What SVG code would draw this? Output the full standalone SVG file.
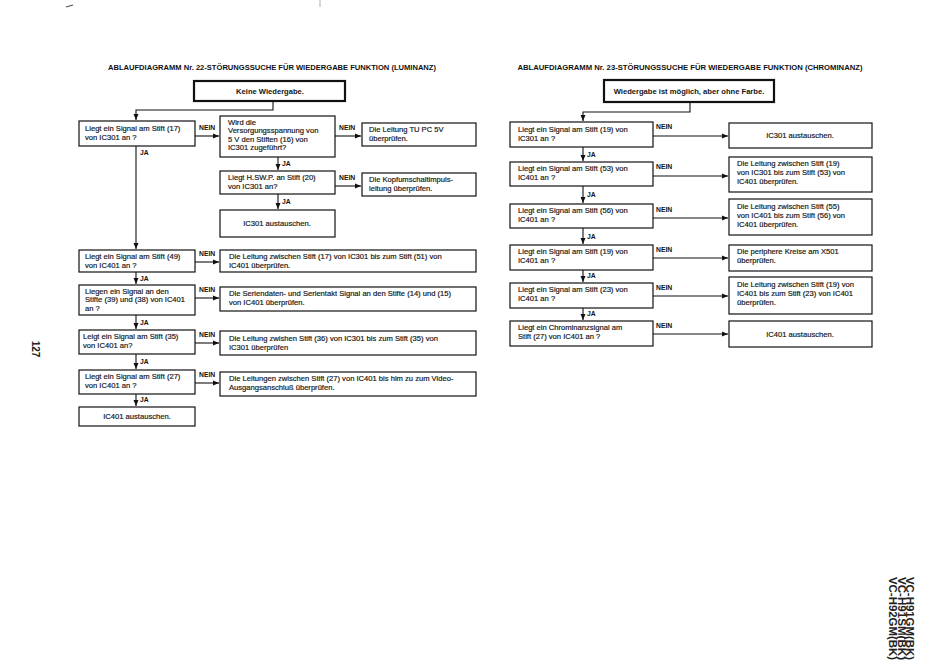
<svg xmlns="http://www.w3.org/2000/svg" width="950" height="670" viewBox="0 0 950 670">
<defs>
<marker id="ah" markerUnits="userSpaceOnUse" markerWidth="7" markerHeight="6" refX="6" refY="3" orient="auto">
<path d="M0,0.5 L6,3 L0,5.5 Z" fill="#111"/>
</marker>
<style>
.t{font-family:"Liberation Sans",Arial,sans-serif;font-size:7.6px;fill:#161616;stroke:#161616;stroke-width:0.18px}
.c{text-anchor:middle}
.b{font-weight:bold;stroke-width:0}
.h{font-family:"Liberation Sans",Arial,sans-serif;font-size:7.4px;font-weight:bold;fill:#111;text-anchor:middle}
.l{font-family:"Liberation Sans",Arial,sans-serif;font-size:6.8px;font-weight:bold;fill:#111}
.bx{fill:#fff;stroke:#111;stroke-width:1.2}
.st{fill:#fff;stroke:#111;stroke-width:2.2}
.cn{fill:none;stroke:#111;stroke-width:1.1}
.m{font-family:"Liberation Sans",Arial,sans-serif;font-size:10px;font-weight:bold;fill:#222}
</style>
</defs>
<rect width="950" height="670" fill="#fff"/>
<path d="M66,7 L73,5" stroke="#555" stroke-width="1.2"/>
<path d="M320,0 V7" stroke="#999" stroke-width="0.8"/>

<text class="h" x="272" y="70" textLength="328" lengthAdjust="spacingAndGlyphs">ABLAUFDIAGRAMM Nr. 22-STÖRUNGSSUCHE FÜR WIEDERGABE FUNKTION (LUMINANZ)</text>
<text class="h" x="690" y="70" textLength="345" lengthAdjust="spacingAndGlyphs">ABLAUFDIAGRAMM Nr. 23-STÖRUNGSSUCHE FÜR WIEDERGABE FUNKTION (CHROMINANZ)</text>

<g id="connectors">
<path class="cn" d="M273,101 V110 H136 V120" marker-end="url(#ah)"/>
<path class="cn" d="M195,136 H219" marker-end="url(#ah)"/>
<path class="cn" d="M335,136 H361" marker-end="url(#ah)"/>
<path class="cn" d="M136,146 V249" marker-end="url(#ah)"/>
<path class="cn" d="M278,157 V170" marker-end="url(#ah)"/>
<path class="cn" d="M335,186 H361" marker-end="url(#ah)"/>
<path class="cn" d="M278,194 V209" marker-end="url(#ah)"/>
<path class="cn" d="M195,262 H219" marker-end="url(#ah)"/>
<path class="cn" d="M136,272 V284" marker-end="url(#ah)"/>
<path class="cn" d="M195,298 H219" marker-end="url(#ah)"/>
<path class="cn" d="M136,315 V329" marker-end="url(#ah)"/>
<path class="cn" d="M195,343 H219" marker-end="url(#ah)"/>
<path class="cn" d="M136,354 V369" marker-end="url(#ah)"/>
<path class="cn" d="M195,383 H219" marker-end="url(#ah)"/>
<path class="cn" d="M136,394 V406" marker-end="url(#ah)"/>
<text class="l" x="199" y="130">NEIN</text>
<text class="l" x="339" y="130">NEIN</text>
<text class="l" x="339" y="180">NEIN</text>
<text class="l" x="199" y="256">NEIN</text>
<text class="l" x="199" y="292">NEIN</text>
<text class="l" x="199" y="337">NEIN</text>
<text class="l" x="199" y="377">NEIN</text>
<text class="l" x="140" y="155">JA</text>
<text class="l" x="282" y="166">JA</text>
<text class="l" x="282" y="204">JA</text>
<text class="l" x="140" y="281">JA</text>
<text class="l" x="140" y="325">JA</text>
<text class="l" x="140" y="364">JA</text>
<text class="l" x="140" y="402">JA</text>

<path class="cn" d="M690,102 V112 H583 V121" marker-end="url(#ah)"/>
<path class="cn" d="M653,136 H728" marker-end="url(#ah)"/>
<path class="cn" d="M583,147 V161" marker-end="url(#ah)"/>
<path class="cn" d="M653,176 H728" marker-end="url(#ah)"/>
<path class="cn" d="M583,186 V203" marker-end="url(#ah)"/>
<path class="cn" d="M653,218 H728" marker-end="url(#ah)"/>
<path class="cn" d="M583,228 V244" marker-end="url(#ah)"/>
<path class="cn" d="M653,258 H728" marker-end="url(#ah)"/>
<path class="cn" d="M583,270 V282" marker-end="url(#ah)"/>
<path class="cn" d="M653,296 H728" marker-end="url(#ah)"/>
<path class="cn" d="M583,308 V320" marker-end="url(#ah)"/>
<path class="cn" d="M653,334 H728" marker-end="url(#ah)"/>
<text class="l" x="656" y="129">NEIN</text>
<text class="l" x="656" y="169">NEIN</text>
<text class="l" x="656" y="212">NEIN</text>
<text class="l" x="656" y="252">NEIN</text>
<text class="l" x="656" y="290">NEIN</text>
<text class="l" x="656" y="328">NEIN</text>
<text class="l" x="587" y="157">JA</text>
<text class="l" x="587" y="197">JA</text>
<text class="l" x="587" y="239">JA</text>
<text class="l" x="587" y="278">JA</text>
<text class="l" x="587" y="316">JA</text>
</g>

<!-- Left chart -->
<g id="L0"><rect class="st" x="194" y="81" width="151" height="20"/><text class="t c b" x="270" y="94">Keine Wiedergabe.</text></g>
<g id="L1"><rect class="bx" x="79" y="121" width="116" height="25"/><text class="t" x="85" y="131">Liegt ein Signal am Stift (17)</text><text class="t" x="85" y="140">von IC301 an ?</text></g>
<g id="L2"><rect class="bx" x="220" y="116" width="115" height="41"/><text class="t" x="228" y="125">Wird die</text><text class="t" x="228" y="133">Versorgungsspannung von</text><text class="t" x="228" y="141.5">5 V den Stiften (16)  von</text><text class="t" x="228" y="150">IC301 zugeführt?</text></g>
<g id="L3"><rect class="bx" x="362" y="123" width="114" height="23"/><text class="t" x="369" y="132">Die Leitung TU PC 5V</text><text class="t" x="369" y="141">überprüfen.</text></g>
<g id="L4"><rect class="bx" x="220" y="171" width="115" height="23"/><text class="t" x="228" y="180">Liegt H.SW.P. an Stift (20)</text><text class="t" x="228" y="189">von IC301 an?</text></g>
<g id="L5"><rect class="bx" x="362" y="173" width="114" height="23"/><text class="t" x="369" y="182">Die Kopfumschaltimpuls-</text><text class="t" x="369" y="191">leitung überprüfen.</text></g>
<g id="L6"><rect class="bx" x="220" y="210" width="115" height="27"/><text class="t c" x="277" y="226">IC301 austauschen.</text></g>
<g id="L7"><rect class="bx" x="79" y="250" width="116" height="22"/><text class="t" x="85" y="259">Liegt ein Signal am Stift (49)</text><text class="t" x="85" y="268">von IC401 an ?</text></g>
<g id="L8"><rect class="bx" x="220" y="250" width="256" height="22"/><text class="t" x="229" y="259">Die Leitung zwischen Stift (17)  von IC301 bis zum Stift (51) von</text><text class="t" x="229" y="268">IC401 überprüfen.</text></g>
<g id="L9"><rect class="bx" x="79" y="285" width="116" height="30"/><text class="t" x="85" y="294">Liegen ein Signal an den</text><text class="t" x="85" y="302">Stifte (39) und (38) von IC401</text><text class="t" x="85" y="311">an ?</text></g>
<g id="L10"><rect class="bx" x="220" y="287" width="256" height="24"/><text class="t" x="229" y="296">Die Seriendaten- und Serientakt Signal an den Stifte (14) und (15)</text><text class="t" x="229" y="305">von IC401 überprüfen.</text></g>
<g id="L11"><rect class="bx" x="79" y="330" width="116" height="24"/><text class="t" x="83" y="339">Leigt ein Signal am Stift (35)</text><text class="t" x="83" y="348">von IC401 an?</text></g>
<g id="L12"><rect class="bx" x="220" y="331" width="256" height="24"/><text class="t" x="229" y="341">Die Leitung zwishen Stift (36) von IC301 bis zum Stift (35) von</text><text class="t" x="229" y="350">IC301 überprüfen</text></g>
<g id="L13"><rect class="bx" x="79" y="370" width="116" height="24"/><text class="t" x="85" y="379">Liegt ein Signal am Stift (27)</text><text class="t" x="85" y="388">von IC401 an ?</text></g>
<g id="L14"><rect class="bx" x="220" y="372" width="256" height="24"/><text class="t" x="229" y="381">Die Leitungen zwischen Stift (27) von IC401 bis him zu zum Video-</text><text class="t" x="229" y="390">Ausgangsanschluß überprüfen.</text></g>
<g id="L15"><rect class="bx" x="79" y="407" width="116" height="19"/><text class="t c" x="137" y="419">IC401 austauschen.</text></g>

<!-- Right chart -->
<g id="R0"><rect class="st" x="604" y="80" width="170" height="22"/><text class="t c b" x="689" y="94">Wiedergabe ist möglich, aber ohne Farbe.</text></g>
<g id="R1"><rect class="bx" x="510" y="122" width="143" height="25"/><text class="t" x="518" y="132">Liegt ein Signal am Stift (19)  von</text><text class="t" x="518" y="141">IC301 an ?</text></g>
<g id="R2"><rect class="bx" x="729" y="123" width="143" height="25"/><text class="t c" x="800" y="138">IC301 austauschen.</text></g>
<g id="R3"><rect class="bx" x="510" y="162" width="143" height="24"/><text class="t" x="518" y="171">Liegt ein Signal am Stift (53) von</text><text class="t" x="518" y="180">IC401 an ?</text></g>
<g id="R4"><rect class="bx" x="729" y="157" width="143" height="35"/><text class="t" x="737" y="166">Die Leitung zwischen Stift (19)</text><text class="t" x="737" y="175">von IC301 bis zum Stift (53) von</text><text class="t" x="737" y="184">IC401 überprüfen.</text></g>
<g id="R5"><rect class="bx" x="510" y="204" width="143" height="24"/><text class="t" x="518" y="213">Liegt ein Signal am Stift (56) von</text><text class="t" x="518" y="222">IC401 an ?</text></g>
<g id="R6"><rect class="bx" x="729" y="199" width="143" height="36"/><text class="t" x="737" y="209">Die Leitung zwischen Stift (55)</text><text class="t" x="737" y="218">von IC401 bis zum Stift (56) von</text><text class="t" x="737" y="227">IC401 überprüfen.</text></g>
<g id="R7"><rect class="bx" x="510" y="245" width="143" height="25"/><text class="t" x="518" y="254">Liegt ein Signal am Stift (19) von</text><text class="t" x="518" y="263">IC401 an ?</text></g>
<g id="R8"><rect class="bx" x="729" y="245" width="143" height="26"/><text class="t" x="737" y="254">Die periphere Kreise am X501</text><text class="t" x="737" y="263">überprüfen.</text></g>
<g id="R9"><rect class="bx" x="510" y="283" width="143" height="25"/><text class="t" x="518" y="292">Liegt ein Signal am Stift (23) von</text><text class="t" x="518" y="301">IC401 an ?</text></g>
<g id="R10"><rect class="bx" x="729" y="277" width="143" height="37"/><text class="t" x="737" y="287">Die Leitung zwischen Stift (19) von</text><text class="t" x="737" y="296">IC401 bis zum Stift (23) von IC401</text><text class="t" x="737" y="305">überprüfen.</text></g>
<g id="R11"><rect class="bx" x="510" y="321" width="143" height="25"/><text class="t" x="518" y="330">Liegt ein Chrominanzsignal am</text><text class="t" x="518" y="339">Stift (27) von IC401 an ?</text></g>
<g id="R12"><rect class="bx" x="729" y="321" width="143" height="26"/><text class="t c" x="800" y="337">IC401 austauschen.</text></g>

<text class="m" transform="translate(32,349) rotate(90)" text-anchor="middle" font-size="12">127</text>
<text class="m" transform="translate(906,577) rotate(90)" textLength="83" lengthAdjust="spacingAndGlyphs">VC-H91GM(BK)</text>
<text class="m" transform="translate(897.5,577) rotate(90)" textLength="83" lengthAdjust="spacingAndGlyphs">VC-H91SM(BK)</text>
<text class="m" transform="translate(889,577) rotate(90)" textLength="83" lengthAdjust="spacingAndGlyphs">VC-H92GM(BK)</text>
</svg>
